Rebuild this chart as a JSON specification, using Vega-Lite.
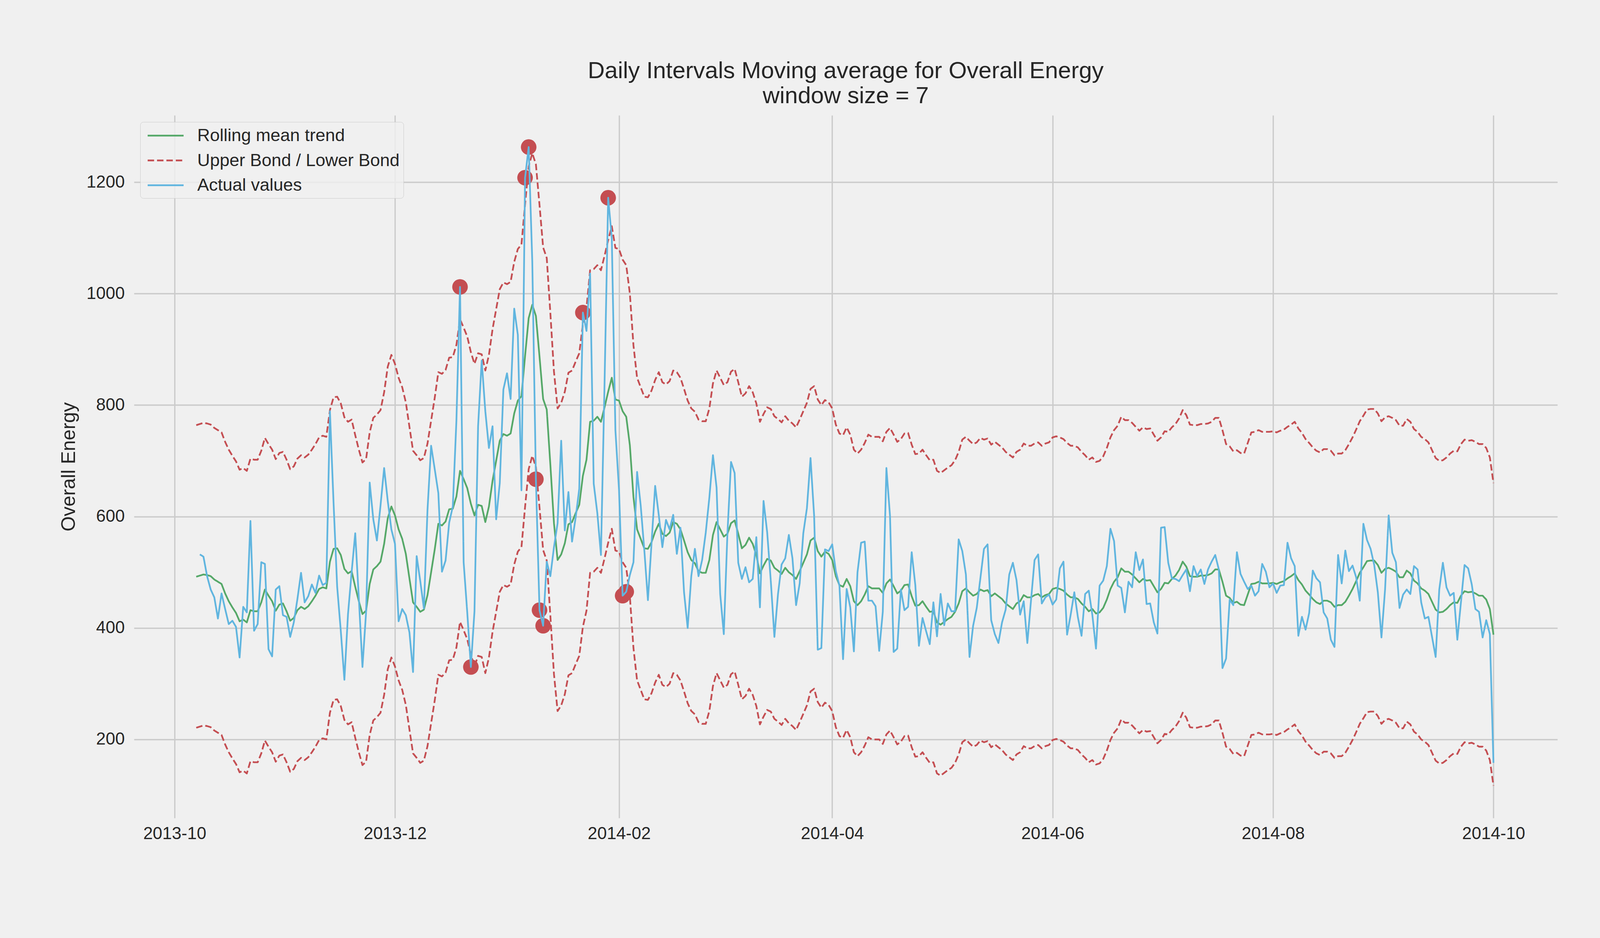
{
"$schema": "https://vega.github.io/schema/vega-lite/v6.json",
"width": 4200, "height": 2400,
"autosize": {"type": "fit", "contains": "padding"},
"padding": {"left": 151, "top": 152, "right": 213, "bottom": 245},
"background": "#f0f0f0",
"title": {"text": ["Daily Intervals Moving average for Overall Energy", "window size = 7"], "fontSize": 60, "fontWeight": "normal", "font": "Liberation Sans", "color": "#262626", "anchor": "middle", "offset": 18, "lineHeight": 64},
"datasets": {
"series": [
{"date":"2013-10-07","mean":492,"upper":764,"lower":221},
{"date":"2013-10-08","mean":494,"upper":766,"lower":223,"actual":532},
{"date":"2013-10-09","mean":496,"upper":768,"lower":225,"actual":528},
{"date":"2013-10-10","mean":495,"upper":767,"lower":224,"actual":493},
{"date":"2013-10-11","mean":493,"upper":765,"lower":222,"actual":469},
{"date":"2013-10-12","mean":487,"upper":759,"lower":216,"actual":455},
{"date":"2013-10-13","mean":483,"upper":755,"lower":212,"actual":417},
{"date":"2013-10-14","mean":479,"upper":751,"lower":208,"actual":462},
{"date":"2013-10-15","mean":462,"upper":734,"lower":191,"actual":434},
{"date":"2013-10-16","mean":448,"upper":720,"lower":177,"actual":407},
{"date":"2013-10-17","mean":437,"upper":709,"lower":166,"actual":413},
{"date":"2013-10-18","mean":427,"upper":699,"lower":156,"actual":402},
{"date":"2013-10-19","mean":412,"upper":684,"lower":141,"actual":347},
{"date":"2013-10-20","mean":415,"upper":687,"lower":144,"actual":438},
{"date":"2013-10-21","mean":410,"upper":682,"lower":139,"actual":428},
{"date":"2013-10-22","mean":432,"upper":704,"lower":161,"actual":592},
{"date":"2013-10-23","mean":430,"upper":702,"lower":159,"actual":395},
{"date":"2013-10-24","mean":430,"upper":702,"lower":159,"actual":407},
{"date":"2013-10-25","mean":446,"upper":718,"lower":175,"actual":518},
{"date":"2013-10-26","mean":469,"upper":741,"lower":198,"actual":515},
{"date":"2013-10-27","mean":458,"upper":730,"lower":187,"actual":362},
{"date":"2013-10-28","mean":448,"upper":720,"lower":177,"actual":349},
{"date":"2013-10-29","mean":431,"upper":703,"lower":160,"actual":469},
{"date":"2013-10-30","mean":442,"upper":714,"lower":171,"actual":475},
{"date":"2013-10-31","mean":444,"upper":716,"lower":173,"actual":423},
{"date":"2013-11-01","mean":430,"upper":702,"lower":159,"actual":420},
{"date":"2013-11-02","mean":413,"upper":685,"lower":142,"actual":384},
{"date":"2013-11-03","mean":418,"upper":690,"lower":147,"actual":410},
{"date":"2013-11-04","mean":432,"upper":704,"lower":161,"actual":452},
{"date":"2013-11-05","mean":438,"upper":710,"lower":167,"actual":499},
{"date":"2013-11-06","mean":434,"upper":706,"lower":163,"actual":446},
{"date":"2013-11-07","mean":439,"upper":711,"lower":168,"actual":457},
{"date":"2013-11-08","mean":448,"upper":720,"lower":177,"actual":478},
{"date":"2013-11-09","mean":458,"upper":730,"lower":187,"actual":463},
{"date":"2013-11-10","mean":470,"upper":742,"lower":199,"actual":494},
{"date":"2013-11-11","mean":473,"upper":745,"lower":202,"actual":477},
{"date":"2013-11-12","mean":471,"upper":743,"lower":200,"actual":481},
{"date":"2013-11-13","mean":519,"upper":791,"lower":248,"actual":789},
{"date":"2013-11-14","mean":542,"upper":814,"lower":271,"actual":625},
{"date":"2013-11-15","mean":543,"upper":815,"lower":272,"actual":474},
{"date":"2013-11-16","mean":531,"upper":803,"lower":260,"actual":395},
{"date":"2013-11-17","mean":506,"upper":778,"lower":235,"actual":307},
{"date":"2013-11-18","mean":498,"upper":770,"lower":227,"actual":425},
{"date":"2013-11-19","mean":502,"upper":774,"lower":231,"actual":500},
{"date":"2013-11-20","mean":474,"upper":746,"lower":203,"actual":570},
{"date":"2013-11-21","mean":448,"upper":720,"lower":177,"actual":453},
{"date":"2013-11-22","mean":425,"upper":697,"lower":154,"actual":330},
{"date":"2013-11-23","mean":431,"upper":703,"lower":160,"actual":428},
{"date":"2013-11-24","mean":479,"upper":751,"lower":208,"actual":661},
{"date":"2013-11-25","mean":505,"upper":777,"lower":234,"actual":595},
{"date":"2013-11-26","mean":511,"upper":783,"lower":240,"actual":557},
{"date":"2013-11-27","mean":519,"upper":791,"lower":248,"actual":620},
{"date":"2013-11-28","mean":551,"upper":823,"lower":280,"actual":687},
{"date":"2013-11-29","mean":597,"upper":869,"lower":326,"actual":628},
{"date":"2013-11-30","mean":618,"upper":890,"lower":347,"actual":577},
{"date":"2013-12-01","mean":602,"upper":874,"lower":331,"actual":551},
{"date":"2013-12-02","mean":577,"upper":849,"lower":306,"actual":412},
{"date":"2013-12-03","mean":560,"upper":832,"lower":289,"actual":434},
{"date":"2013-12-04","mean":533,"upper":805,"lower":262,"actual":423},
{"date":"2013-12-05","mean":489,"upper":761,"lower":218,"actual":392},
{"date":"2013-12-06","mean":446,"upper":718,"lower":175,"actual":321},
{"date":"2013-12-07","mean":438,"upper":710,"lower":167,"actual":529},
{"date":"2013-12-08","mean":429,"upper":701,"lower":158,"actual":484},
{"date":"2013-12-09","mean":433,"upper":705,"lower":162,"actual":435},
{"date":"2013-12-10","mean":459,"upper":731,"lower":188,"actual":612},
{"date":"2013-12-11","mean":500,"upper":772,"lower":229,"actual":727},
{"date":"2013-12-12","mean":541,"upper":813,"lower":270,"actual":685},
{"date":"2013-12-13","mean":587,"upper":859,"lower":316,"actual":642},
{"date":"2013-12-14","mean":584,"upper":856,"lower":313,"actual":501},
{"date":"2013-12-15","mean":591,"upper":863,"lower":320,"actual":521},
{"date":"2013-12-16","mean":613,"upper":885,"lower":342,"actual":589},
{"date":"2013-12-17","mean":614,"upper":886,"lower":343,"actual":618},
{"date":"2013-12-18","mean":636,"upper":908,"lower":365,"actual":772},
{"date":"2013-12-19","mean":682,"upper":954,"lower":411,"actual":1012},
{"date":"2013-12-20","mean":667,"upper":939,"lower":396,"actual":518},
{"date":"2013-12-21","mean":651,"upper":923,"lower":380,"actual":428},
{"date":"2013-12-22","mean":623,"upper":895,"lower":352,"actual":330},
{"date":"2013-12-23","mean":602,"upper":874,"lower":331,"actual":430},
{"date":"2013-12-24","mean":621,"upper":893,"lower":350,"actual":762},
{"date":"2013-12-25","mean":619,"upper":891,"lower":348,"actual":880},
{"date":"2013-12-26","mean":590,"upper":862,"lower":319,"actual":789},
{"date":"2013-12-27","mean":618,"upper":890,"lower":347,"actual":723},
{"date":"2013-12-28","mean":664,"upper":936,"lower":393,"actual":762},
{"date":"2013-12-29","mean":700,"upper":972,"lower":429,"actual":595},
{"date":"2013-12-30","mean":736,"upper":1008,"lower":465,"actual":660},
{"date":"2013-12-31","mean":748,"upper":1020,"lower":477,"actual":828},
{"date":"2014-01-01","mean":745,"upper":1017,"lower":474,"actual":857},
{"date":"2014-01-02","mean":749,"upper":1021,"lower":478,"actual":811},
{"date":"2014-01-03","mean":785,"upper":1057,"lower":514,"actual":973},
{"date":"2014-01-04","mean":808,"upper":1080,"lower":537,"actual":926},
{"date":"2014-01-05","mean":816,"upper":1088,"lower":545,"actual":647},
{"date":"2014-01-06","mean":888,"upper":1160,"lower":617,"actual":1208},
{"date":"2014-01-07","mean":956,"upper":1228,"lower":685,"actual":1263},
{"date":"2014-01-08","mean":980,"upper":1252,"lower":709,"actual":1057},
{"date":"2014-01-09","mean":960,"upper":1232,"lower":689,"actual":667},
{"date":"2014-01-10","mean":887,"upper":1159,"lower":616,"actual":432},
{"date":"2014-01-11","mean":811,"upper":1083,"lower":540,"actual":404},
{"date":"2014-01-12","mean":792,"upper":1064,"lower":521,"actual":519},
{"date":"2014-01-13","mean":693,"upper":965,"lower":422,"actual":493},
{"date":"2014-01-14","mean":588,"upper":860,"lower":317,"actual":545},
{"date":"2014-01-15","mean":522,"upper":794,"lower":251,"actual":588},
{"date":"2014-01-16","mean":532,"upper":804,"lower":261,"actual":736},
{"date":"2014-01-17","mean":552,"upper":824,"lower":281,"actual":575},
{"date":"2014-01-18","mean":586,"upper":858,"lower":315,"actual":644},
{"date":"2014-01-19","mean":590,"upper":862,"lower":319,"actual":555},
{"date":"2014-01-20","mean":606,"upper":878,"lower":335,"actual":598},
{"date":"2014-01-21","mean":621,"upper":893,"lower":350,"actual":650},
{"date":"2014-01-22","mean":673,"upper":945,"lower":402,"actual":966},
{"date":"2014-01-23","mean":702,"upper":974,"lower":431,"actual":933},
{"date":"2014-01-24","mean":770,"upper":1042,"lower":499,"actual":1036},
{"date":"2014-01-25","mean":772,"upper":1044,"lower":501,"actual":659},
{"date":"2014-01-26","mean":779,"upper":1051,"lower":508,"actual":606},
{"date":"2014-01-27","mean":770,"upper":1042,"lower":499,"actual":531},
{"date":"2014-01-28","mean":796,"upper":1068,"lower":525,"actual":840},
{"date":"2014-01-29","mean":824,"upper":1096,"lower":553,"actual":1172},
{"date":"2014-01-30","mean":849,"upper":1121,"lower":578,"actual":1100},
{"date":"2014-01-31","mean":810,"upper":1082,"lower":539,"actual":755},
{"date":"2014-02-01","mean":808,"upper":1080,"lower":537,"actual":648},
{"date":"2014-02-02","mean":789,"upper":1061,"lower":518,"actual":458},
{"date":"2014-02-03","mean":779,"upper":1051,"lower":508,"actual":465},
{"date":"2014-02-04","mean":728,"upper":1000,"lower":457,"actual":495},
{"date":"2014-02-05","mean":635,"upper":907,"lower":364,"actual":518},
{"date":"2014-02-06","mean":577,"upper":849,"lower":306,"actual":680},
{"date":"2014-02-07","mean":560,"upper":832,"lower":289,"actual":620},
{"date":"2014-02-08","mean":543,"upper":815,"lower":272,"actual":540},
{"date":"2014-02-09","mean":542,"upper":814,"lower":271,"actual":450},
{"date":"2014-02-10","mean":554,"upper":826,"lower":283,"actual":552},
{"date":"2014-02-11","mean":573,"upper":845,"lower":302,"actual":655},
{"date":"2014-02-12","mean":587,"upper":859,"lower":316,"actual":603},
{"date":"2014-02-13","mean":569,"upper":841,"lower":298,"actual":545},
{"date":"2014-02-14","mean":565,"upper":837,"lower":294,"actual":594},
{"date":"2014-02-15","mean":571,"upper":843,"lower":300,"actual":577},
{"date":"2014-02-16","mean":590,"upper":862,"lower":319,"actual":603},
{"date":"2014-02-17","mean":587,"upper":859,"lower":316,"actual":533},
{"date":"2014-02-18","mean":577,"upper":849,"lower":306,"actual":580},
{"date":"2014-02-19","mean":557,"upper":829,"lower":286,"actual":464},
{"date":"2014-02-20","mean":536,"upper":808,"lower":265,"actual":400},
{"date":"2014-02-21","mean":522,"upper":794,"lower":251,"actual":493},
{"date":"2014-02-22","mean":516,"upper":788,"lower":245,"actual":542},
{"date":"2014-02-23","mean":502,"upper":774,"lower":231,"actual":493},
{"date":"2014-02-24","mean":499,"upper":771,"lower":228,"actual":522},
{"date":"2014-02-25","mean":499,"upper":771,"lower":228,"actual":571},
{"date":"2014-02-26","mean":522,"upper":794,"lower":251,"actual":634},
{"date":"2014-02-27","mean":567,"upper":839,"lower":296,"actual":710},
{"date":"2014-02-28","mean":590,"upper":862,"lower":319,"actual":652},
{"date":"2014-03-01","mean":577,"upper":849,"lower":306,"actual":461},
{"date":"2014-03-02","mean":564,"upper":836,"lower":293,"actual":389},
{"date":"2014-03-03","mean":569,"upper":841,"lower":298,"actual":569},
{"date":"2014-03-04","mean":588,"upper":860,"lower":317,"actual":698},
{"date":"2014-03-05","mean":593,"upper":865,"lower":322,"actual":678},
{"date":"2014-03-06","mean":569,"upper":841,"lower":298,"actual":517},
{"date":"2014-03-07","mean":543,"upper":815,"lower":272,"actual":488},
{"date":"2014-03-08","mean":549,"upper":821,"lower":278,"actual":509},
{"date":"2014-03-09","mean":562,"upper":834,"lower":291,"actual":482},
{"date":"2014-03-10","mean":551,"upper":823,"lower":280,"actual":488},
{"date":"2014-03-11","mean":531,"upper":803,"lower":260,"actual":563},
{"date":"2014-03-12","mean":498,"upper":770,"lower":227,"actual":437},
{"date":"2014-03-13","mean":512,"upper":784,"lower":241,"actual":628},
{"date":"2014-03-14","mean":524,"upper":796,"lower":253,"actual":572},
{"date":"2014-03-15","mean":521,"upper":793,"lower":250,"actual":485},
{"date":"2014-03-16","mean":508,"upper":780,"lower":237,"actual":384},
{"date":"2014-03-17","mean":503,"upper":775,"lower":232,"actual":461},
{"date":"2014-03-18","mean":497,"upper":769,"lower":226,"actual":514},
{"date":"2014-03-19","mean":508,"upper":780,"lower":237,"actual":525},
{"date":"2014-03-20","mean":500,"upper":772,"lower":229,"actual":567},
{"date":"2014-03-21","mean":495,"upper":767,"lower":224,"actual":525},
{"date":"2014-03-22","mean":488,"upper":760,"lower":217,"actual":441},
{"date":"2014-03-23","mean":502,"upper":774,"lower":231,"actual":480},
{"date":"2014-03-24","mean":517,"upper":789,"lower":246,"actual":570},
{"date":"2014-03-25","mean":532,"upper":804,"lower":261,"actual":615},
{"date":"2014-03-26","mean":557,"upper":829,"lower":286,"actual":705},
{"date":"2014-03-27","mean":562,"upper":834,"lower":291,"actual":601},
{"date":"2014-03-28","mean":538,"upper":810,"lower":267,"actual":361},
{"date":"2014-03-29","mean":528,"upper":800,"lower":257,"actual":364},
{"date":"2014-03-30","mean":537,"upper":809,"lower":266,"actual":541},
{"date":"2014-03-31","mean":533,"upper":805,"lower":262,"actual":538},
{"date":"2014-04-01","mean":522,"upper":794,"lower":251,"actual":550},
{"date":"2014-04-02","mean":493,"upper":765,"lower":222,"actual":502},
{"date":"2014-04-03","mean":477,"upper":749,"lower":206,"actual":476},
{"date":"2014-04-04","mean":474,"upper":746,"lower":203,"actual":344},
{"date":"2014-04-05","mean":488,"upper":760,"lower":217,"actual":470},
{"date":"2014-04-06","mean":475,"upper":747,"lower":204,"actual":437},
{"date":"2014-04-07","mean":448,"upper":720,"lower":177,"actual":358},
{"date":"2014-04-08","mean":441,"upper":713,"lower":170,"actual":500},
{"date":"2014-04-09","mean":448,"upper":720,"lower":177,"actual":553},
{"date":"2014-04-10","mean":460,"upper":732,"lower":189,"actual":555},
{"date":"2014-04-11","mean":475,"upper":747,"lower":204,"actual":449},
{"date":"2014-04-12","mean":471,"upper":743,"lower":200,"actual":449},
{"date":"2014-04-13","mean":471,"upper":743,"lower":200,"actual":439},
{"date":"2014-04-14","mean":471,"upper":743,"lower":200,"actual":359},
{"date":"2014-04-15","mean":463,"upper":735,"lower":192,"actual":429},
{"date":"2014-04-16","mean":480,"upper":752,"lower":209,"actual":687},
{"date":"2014-04-17","mean":487,"upper":759,"lower":216,"actual":601},
{"date":"2014-04-18","mean":475,"upper":747,"lower":204,"actual":357},
{"date":"2014-04-19","mean":462,"upper":734,"lower":191,"actual":363},
{"date":"2014-04-20","mean":467,"upper":739,"lower":196,"actual":469},
{"date":"2014-04-21","mean":477,"upper":749,"lower":206,"actual":432},
{"date":"2014-04-22","mean":478,"upper":750,"lower":207,"actual":438},
{"date":"2014-04-23","mean":457,"upper":729,"lower":186,"actual":536},
{"date":"2014-04-24","mean":440,"upper":712,"lower":169,"actual":477},
{"date":"2014-04-25","mean":441,"upper":713,"lower":170,"actual":368},
{"date":"2014-04-26","mean":448,"upper":720,"lower":177,"actual":418},
{"date":"2014-04-27","mean":438,"upper":710,"lower":167,"actual":394},
{"date":"2014-04-28","mean":429,"upper":701,"lower":158,"actual":371},
{"date":"2014-04-29","mean":430,"upper":702,"lower":159,"actual":446},
{"date":"2014-04-30","mean":410,"upper":682,"lower":139,"actual":385},
{"date":"2014-05-01","mean":406,"upper":678,"lower":135,"actual":461},
{"date":"2014-05-02","mean":411,"upper":683,"lower":140,"actual":405},
{"date":"2014-05-03","mean":416,"upper":688,"lower":145,"actual":444},
{"date":"2014-05-04","mean":420,"upper":692,"lower":149,"actual":430},
{"date":"2014-05-05","mean":429,"upper":701,"lower":158,"actual":430},
{"date":"2014-05-06","mean":444,"upper":716,"lower":173,"actual":559},
{"date":"2014-05-07","mean":466,"upper":738,"lower":195,"actual":538},
{"date":"2014-05-08","mean":471,"upper":743,"lower":200,"actual":496},
{"date":"2014-05-09","mean":464,"upper":736,"lower":193,"actual":348},
{"date":"2014-05-10","mean":458,"upper":730,"lower":187,"actual":404},
{"date":"2014-05-11","mean":461,"upper":733,"lower":190,"actual":436},
{"date":"2014-05-12","mean":469,"upper":741,"lower":198,"actual":489},
{"date":"2014-05-13","mean":466,"upper":738,"lower":195,"actual":542},
{"date":"2014-05-14","mean":468,"upper":740,"lower":197,"actual":550},
{"date":"2014-05-15","mean":457,"upper":729,"lower":186,"actual":414},
{"date":"2014-05-16","mean":462,"upper":734,"lower":191,"actual":389},
{"date":"2014-05-17","mean":457,"upper":729,"lower":186,"actual":373},
{"date":"2014-05-18","mean":452,"upper":724,"lower":181,"actual":410},
{"date":"2014-05-19","mean":444,"upper":716,"lower":173,"actual":433},
{"date":"2014-05-20","mean":439,"upper":711,"lower":168,"actual":496},
{"date":"2014-05-21","mean":434,"upper":706,"lower":163,"actual":517},
{"date":"2014-05-22","mean":444,"upper":716,"lower":173,"actual":486},
{"date":"2014-05-23","mean":448,"upper":720,"lower":177,"actual":424},
{"date":"2014-05-24","mean":459,"upper":731,"lower":188,"actual":448},
{"date":"2014-05-25","mean":455,"upper":727,"lower":184,"actual":373},
{"date":"2014-05-26","mean":455,"upper":727,"lower":184,"actual":448},
{"date":"2014-05-27","mean":459,"upper":731,"lower":188,"actual":522},
{"date":"2014-05-28","mean":461,"upper":733,"lower":190,"actual":532},
{"date":"2014-05-29","mean":455,"upper":727,"lower":184,"actual":444},
{"date":"2014-05-30","mean":459,"upper":731,"lower":188,"actual":455},
{"date":"2014-05-31","mean":461,"upper":733,"lower":190,"actual":460},
{"date":"2014-06-01","mean":470,"upper":742,"lower":199,"actual":442},
{"date":"2014-06-02","mean":472,"upper":744,"lower":201,"actual":451},
{"date":"2014-06-03","mean":470,"upper":742,"lower":199,"actual":507},
{"date":"2014-06-04","mean":467,"upper":739,"lower":196,"actual":519},
{"date":"2014-06-05","mean":460,"upper":732,"lower":189,"actual":388},
{"date":"2014-06-06","mean":455,"upper":727,"lower":184,"actual":424},
{"date":"2014-06-07","mean":455,"upper":727,"lower":184,"actual":464},
{"date":"2014-06-08","mean":452,"upper":724,"lower":181,"actual":419},
{"date":"2014-06-09","mean":444,"upper":716,"lower":173,"actual":386},
{"date":"2014-06-10","mean":438,"upper":710,"lower":167,"actual":461},
{"date":"2014-06-11","mean":430,"upper":702,"lower":159,"actual":467},
{"date":"2014-06-12","mean":434,"upper":706,"lower":163,"actual":423},
{"date":"2014-06-13","mean":426,"upper":698,"lower":155,"actual":363},
{"date":"2014-06-14","mean":428,"upper":700,"lower":157,"actual":476},
{"date":"2014-06-15","mean":436,"upper":708,"lower":165,"actual":485},
{"date":"2014-06-16","mean":451,"upper":723,"lower":180,"actual":511},
{"date":"2014-06-17","mean":470,"upper":742,"lower":199,"actual":578},
{"date":"2014-06-18","mean":483,"upper":755,"lower":212,"actual":556},
{"date":"2014-06-19","mean":491,"upper":763,"lower":220,"actual":476},
{"date":"2014-06-20","mean":507,"upper":779,"lower":236,"actual":472},
{"date":"2014-06-21","mean":501,"upper":773,"lower":230,"actual":428},
{"date":"2014-06-22","mean":501,"upper":773,"lower":230,"actual":483},
{"date":"2014-06-23","mean":496,"upper":768,"lower":225,"actual":473},
{"date":"2014-06-24","mean":489,"upper":761,"lower":218,"actual":536},
{"date":"2014-06-25","mean":482,"upper":754,"lower":211,"actual":504},
{"date":"2014-06-26","mean":488,"upper":760,"lower":217,"actual":523},
{"date":"2014-06-27","mean":485,"upper":757,"lower":214,"actual":443},
{"date":"2014-06-28","mean":486,"upper":758,"lower":215,"actual":444},
{"date":"2014-06-29","mean":475,"upper":747,"lower":204,"actual":410},
{"date":"2014-06-30","mean":464,"upper":736,"lower":193,"actual":390},
{"date":"2014-07-01","mean":470,"upper":742,"lower":199,"actual":580},
{"date":"2014-07-02","mean":481,"upper":753,"lower":210,"actual":581},
{"date":"2014-07-03","mean":480,"upper":752,"lower":209,"actual":517},
{"date":"2014-07-04","mean":488,"upper":760,"lower":217,"actual":489},
{"date":"2014-07-05","mean":494,"upper":766,"lower":223,"actual":488},
{"date":"2014-07-06","mean":504,"upper":776,"lower":233,"actual":484},
{"date":"2014-07-07","mean":519,"upper":791,"lower":248,"actual":495},
{"date":"2014-07-08","mean":510,"upper":782,"lower":239,"actual":505},
{"date":"2014-07-09","mean":493,"upper":765,"lower":222,"actual":466},
{"date":"2014-07-10","mean":492,"upper":764,"lower":221,"actual":511},
{"date":"2014-07-11","mean":492,"upper":764,"lower":221,"actual":493},
{"date":"2014-07-12","mean":494,"upper":766,"lower":223,"actual":505},
{"date":"2014-07-13","mean":494,"upper":766,"lower":223,"actual":479},
{"date":"2014-07-14","mean":495,"upper":767,"lower":224,"actual":505},
{"date":"2014-07-15","mean":498,"upper":770,"lower":227,"actual":519},
{"date":"2014-07-16","mean":505,"upper":777,"lower":234,"actual":531},
{"date":"2014-07-17","mean":505,"upper":777,"lower":234,"actual":505},
{"date":"2014-07-18","mean":483,"upper":755,"lower":212,"actual":328},
{"date":"2014-07-19","mean":458,"upper":730,"lower":187,"actual":345},
{"date":"2014-07-20","mean":454,"upper":726,"lower":183,"actual":451},
{"date":"2014-07-21","mean":445,"upper":717,"lower":174,"actual":441},
{"date":"2014-07-22","mean":447,"upper":719,"lower":176,"actual":536},
{"date":"2014-07-23","mean":442,"upper":714,"lower":171,"actual":497},
{"date":"2014-07-24","mean":441,"upper":713,"lower":170,"actual":483},
{"date":"2014-07-25","mean":460,"upper":732,"lower":189,"actual":470},
{"date":"2014-07-26","mean":479,"upper":751,"lower":208,"actual":476},
{"date":"2014-07-27","mean":480,"upper":752,"lower":209,"actual":458},
{"date":"2014-07-28","mean":483,"upper":755,"lower":212,"actual":466},
{"date":"2014-07-29","mean":480,"upper":752,"lower":209,"actual":515},
{"date":"2014-07-30","mean":480,"upper":752,"lower":209,"actual":501},
{"date":"2014-07-31","mean":480,"upper":752,"lower":209,"actual":473},
{"date":"2014-08-01","mean":481,"upper":753,"lower":210,"actual":480},
{"date":"2014-08-02","mean":479,"upper":751,"lower":208,"actual":463},
{"date":"2014-08-03","mean":482,"upper":754,"lower":211,"actual":476},
{"date":"2014-08-04","mean":484,"upper":756,"lower":213,"actual":477},
{"date":"2014-08-05","mean":489,"upper":761,"lower":218,"actual":553},
{"date":"2014-08-06","mean":493,"upper":765,"lower":222,"actual":525},
{"date":"2014-08-07","mean":498,"upper":770,"lower":227,"actual":511},
{"date":"2014-08-08","mean":486,"upper":758,"lower":215,"actual":386},
{"date":"2014-08-09","mean":478,"upper":750,"lower":207,"actual":420},
{"date":"2014-08-10","mean":467,"upper":739,"lower":196,"actual":397},
{"date":"2014-08-11","mean":460,"upper":732,"lower":189,"actual":427},
{"date":"2014-08-12","mean":452,"upper":724,"lower":181,"actual":503},
{"date":"2014-08-13","mean":446,"upper":718,"lower":175,"actual":489},
{"date":"2014-08-14","mean":443,"upper":715,"lower":172,"actual":482},
{"date":"2014-08-15","mean":449,"upper":721,"lower":178,"actual":428},
{"date":"2014-08-16","mean":449,"upper":721,"lower":178,"actual":417},
{"date":"2014-08-17","mean":446,"upper":718,"lower":175,"actual":379},
{"date":"2014-08-18","mean":438,"upper":710,"lower":167,"actual":366},
{"date":"2014-08-19","mean":441,"upper":713,"lower":170,"actual":531},
{"date":"2014-08-20","mean":441,"upper":713,"lower":170,"actual":480},
{"date":"2014-08-21","mean":447,"upper":719,"lower":176,"actual":539},
{"date":"2014-08-22","mean":458,"upper":730,"lower":187,"actual":502},
{"date":"2014-08-23","mean":470,"upper":742,"lower":199,"actual":512},
{"date":"2014-08-24","mean":484,"upper":756,"lower":213,"actual":491},
{"date":"2014-08-25","mean":499,"upper":771,"lower":228,"actual":449},
{"date":"2014-08-26","mean":509,"upper":781,"lower":238,"actual":587},
{"date":"2014-08-27","mean":520,"upper":792,"lower":249,"actual":558},
{"date":"2014-08-28","mean":521,"upper":793,"lower":250,"actual":542},
{"date":"2014-08-29","mean":521,"upper":793,"lower":250,"actual":513},
{"date":"2014-08-30","mean":513,"upper":785,"lower":242,"actual":464},
{"date":"2014-08-31","mean":499,"upper":771,"lower":228,"actual":383},
{"date":"2014-09-01","mean":506,"upper":778,"lower":235,"actual":469},
{"date":"2014-09-02","mean":508,"upper":780,"lower":237,"actual":602},
{"date":"2014-09-03","mean":505,"upper":777,"lower":234,"actual":535},
{"date":"2014-09-04","mean":501,"upper":773,"lower":230,"actual":518},
{"date":"2014-09-05","mean":491,"upper":763,"lower":220,"actual":436},
{"date":"2014-09-06","mean":491,"upper":763,"lower":220,"actual":460},
{"date":"2014-09-07","mean":503,"upper":775,"lower":232,"actual":469},
{"date":"2014-09-08","mean":498,"upper":770,"lower":227,"actual":461},
{"date":"2014-09-09","mean":485,"upper":757,"lower":214,"actual":511},
{"date":"2014-09-10","mean":480,"upper":752,"lower":209,"actual":505},
{"date":"2014-09-11","mean":471,"upper":743,"lower":200,"actual":446},
{"date":"2014-09-12","mean":467,"upper":739,"lower":196,"actual":417},
{"date":"2014-09-13","mean":461,"upper":733,"lower":190,"actual":420},
{"date":"2014-09-14","mean":447,"upper":719,"lower":176,"actual":384},
{"date":"2014-09-15","mean":433,"upper":705,"lower":162,"actual":348},
{"date":"2014-09-16","mean":428,"upper":700,"lower":157,"actual":469},
{"date":"2014-09-17","mean":429,"upper":701,"lower":158,"actual":517},
{"date":"2014-09-18","mean":434,"upper":706,"lower":163,"actual":473},
{"date":"2014-09-19","mean":441,"upper":713,"lower":170,"actual":458},
{"date":"2014-09-20","mean":446,"upper":718,"lower":175,"actual":463},
{"date":"2014-09-21","mean":445,"upper":717,"lower":174,"actual":379},
{"date":"2014-09-22","mean":458,"upper":730,"lower":187,"actual":446},
{"date":"2014-09-23","mean":466,"upper":738,"lower":195,"actual":513},
{"date":"2014-09-24","mean":464,"upper":736,"lower":193,"actual":507},
{"date":"2014-09-25","mean":465,"upper":737,"lower":194,"actual":478},
{"date":"2014-09-26","mean":462,"upper":734,"lower":191,"actual":434},
{"date":"2014-09-27","mean":458,"upper":730,"lower":187,"actual":429},
{"date":"2014-09-28","mean":458,"upper":730,"lower":187,"actual":383},
{"date":"2014-09-29","mean":451,"upper":723,"lower":180,"actual":414},
{"date":"2014-09-30","mean":434,"upper":706,"lower":163,"actual":389},
{"date":"2014-10-01","mean":388,"upper":660,"lower":117,"actual":158}
],
"anomalies": [
{"date":"2013-12-19","actual":1012},
{"date":"2013-12-22","actual":330},
{"date":"2014-01-06","actual":1208},
{"date":"2014-01-07","actual":1263},
{"date":"2014-01-09","actual":667},
{"date":"2014-01-10","actual":432},
{"date":"2014-01-11","actual":404},
{"date":"2014-01-22","actual":966},
{"date":"2014-01-29","actual":1172},
{"date":"2014-02-02","actual":458},
{"date":"2014-02-03","actual":465}
]
},
"data": {"name": "series"},
"encoding": {
"x": {"field": "date", "type": "temporal", "title": null,
 "scale": {"type": "utc", "nice": false, "domain": [{"year": 2013, "month": 9, "date": 19, "hours": 18, "minutes": 30, "utc": true}, {"year": 2014, "month": 10, "date": 18, "hours": 16, "minutes": 48, "utc": true}]},
 "axis": {"format": "%Y-%m", "values": [
  {"year": 2013, "month": 10, "date": 1, "utc": true},
  {"year": 2013, "month": 12, "date": 1, "utc": true},
  {"year": 2014, "month": 2, "date": 1, "utc": true},
  {"year": 2014, "month": 4, "date": 1, "utc": true},
  {"year": 2014, "month": 6, "date": 1, "utc": true},
  {"year": 2014, "month": 8, "date": 1, "utc": true},
  {"year": 2014, "month": 10, "date": 1, "utc": true}]}}
},
"layer": [
{"mark": {"type": "line", "strokeWidth": 4.4, "strokeJoin": "round"},
 "encoding": {
  "y": {"field": "mean", "type": "quantitative", "title": "Overall Energy", "scale": {"domain": [59, 1320], "nice": false, "zero": false}, "axis": {"values": [200, 400, 600, 800, 1000, 1200], "format": "d"}},
  "color": {"datum": "Rolling mean trend", "type": "nominal",
   "scale": {"domain": ["Rolling mean trend", "Upper Bond / Lower Bond", "Actual values"], "range": ["#55a868", "#c44e52", "#60b5df"]},
   "legend": {"title": null, "orient": "none", "legendX": 16, "legendY": 17, "padding": 9.5, "rowPadding": 14.5, "symbolOffset": 30, "labelOffset": 55.5, "symbolType": "M-2,0H2", "symbolSize": 2116, "symbolStrokeWidth": 4.4, "labelFont": "Liberation Sans", "labelFontSize": 45, "labelColor": "#262626", "labelLimit": 1000, "fillColor": "rgba(240,240,240,0.8)", "strokeColor": "#cccccc", "cornerRadius": 8}},
  "strokeDash": {"datum": "Rolling mean trend", "type": "nominal",
   "scale": {"domain": ["Rolling mean trend", "Upper Bond / Lower Bond", "Actual values"], "range": [[1, 0], [16.5, 7.5], [1, 0]]},
   "legend": {"title": null, "orient": "none", "legendX": 16, "legendY": 17, "padding": 9.5, "rowPadding": 14.5, "symbolOffset": 30, "labelOffset": 55.5, "symbolType": "M-2,0H2", "symbolSize": 2116, "symbolStrokeWidth": 4.4, "labelFont": "Liberation Sans", "labelFontSize": 45, "labelColor": "#262626", "labelLimit": 1000, "fillColor": "rgba(240,240,240,0.8)", "strokeColor": "#cccccc", "cornerRadius": 8}}
 }},
{"mark": {"type": "line", "strokeWidth": 4.4, "strokeJoin": "round"},
 "encoding": {
  "y": {"field": "upper", "type": "quantitative", "title": "Overall Energy", "scale": {"domain": [59, 1320], "nice": false, "zero": false}, "axis": {"values": [200, 400, 600, 800, 1000, 1200], "format": "d"}},
  "color": {"datum": "Upper Bond / Lower Bond", "type": "nominal"},
  "strokeDash": {"datum": "Upper Bond / Lower Bond", "type": "nominal"}
 }},
{"mark": {"type": "line", "strokeWidth": 4.4, "strokeJoin": "round"},
 "encoding": {
  "y": {"field": "lower", "type": "quantitative", "title": "Overall Energy", "scale": {"domain": [59, 1320], "nice": false, "zero": false}, "axis": {"values": [200, 400, 600, 800, 1000, 1200], "format": "d"}},
  "color": {"datum": "Upper Bond / Lower Bond", "type": "nominal"},
  "strokeDash": {"datum": "Upper Bond / Lower Bond", "type": "nominal"}
 }},
{"data": {"name": "anomalies"},
 "mark": {"type": "circle", "size": 1590, "color": "#c44e52", "opacity": 1},
 "encoding": {
  "y": {"field": "actual", "type": "quantitative", "title": "Overall Energy", "scale": {"domain": [59, 1320], "nice": false, "zero": false}, "axis": {"values": [200, 400, 600, 800, 1000, 1200], "format": "d"}}
 }},
{"mark": {"type": "line", "strokeWidth": 4.4, "strokeJoin": "round"},
 "encoding": {
  "y": {"field": "actual", "type": "quantitative", "title": "Overall Energy", "scale": {"domain": [59, 1320], "nice": false, "zero": false}, "axis": {"values": [200, 400, 600, 800, 1000, 1200], "format": "d"}},
  "color": {"datum": "Actual values", "type": "nominal"},
  "strokeDash": {"datum": "Actual values", "type": "nominal"}
 }}
],
"config": {
 "view": {"stroke": null},
 "font": "Liberation Sans",
 "axis": {"domain": false, "ticks": false, "grid": true, "gridColor": "#cbcbcb", "gridWidth": 3.3, "labelFont": "Liberation Sans", "labelFontSize": 44, "labelColor": "#262626", "titleFont": "Liberation Sans", "titleFontSize": 50, "titleFontWeight": "normal", "titleColor": "#262626", "labelOverlap": false},
 "axisX": {"labelPadding": 18, "labelFlush": false, "labelAngle": 0},
 "axisY": {"labelPadding": 24, "titlePadding": 20}
}
}
